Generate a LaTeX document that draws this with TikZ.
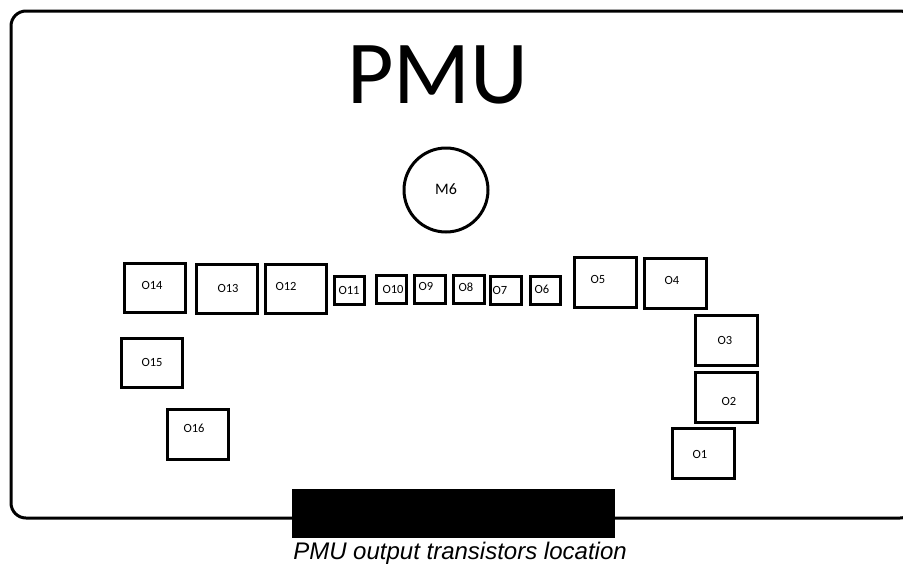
\documentclass[tikz,border=0pt]{standalone}
\usepackage{fontspec}
\setmainfont{Carlito}
\newfontfamily\capfont{Liberation Sans}
\begin{document}
\begin{tikzpicture}[x=1pt,y=-1pt,
  tbox/.style={draw,line width=3pt,rectangle,inner sep=0pt},
  tlbl/.style={font=\fontsize{12.5}{13}\selectfont,inner sep=0pt,anchor=center},
  thick3/.style={line width=3pt}]
\useasboundingbox (0,0) rectangle (903,566);
% frame
\draw[thick3,rounded corners=15pt] (11,11) rectangle (915,518);
\node[fill=black,draw=black,minimum width=322pt,minimum height=48pt,inner sep=0pt] (conn) at (453,513) {};
\node[font=\capfont\itshape\fontsize{24}{26}\selectfont,inner sep=0pt] (cap) at (460,553) {PMU output transistors location};
\node[font=\fontsize{90}{90}\selectfont,inner sep=0pt,anchor=base] (title) at (438,103) {PMU};
% M6
\node[draw,circle,line width=3pt,minimum size=84pt,inner sep=0pt] (m6) at (446,190) {};
\node[font=\fontsize{16}{17}\selectfont,inner sep=0pt] (m6l) at (446,189) {M6};
% boxes: name, cx, cy, w, h, label x, label y
\foreach \n/\cx/\cy/\w/\h/\lx/\ly in {
  O14/155/288/61/49/152/285,
  O13/227/289/61/49/228/288,
  O12/296/289/61/49/286/286,
  O11/349/290/30/28/349/290,
  O10/391/289/30/28/393/289,
  O9/430/289/31/28/426/286,
  O8/469/289/31/28/466/287,
  O7/506/290/31/28/500/290,
  O6/545/290/30/28/542/289,
  O5/605/282/62/50/598/279,
  O4/675/283/62/50/672/280,
  O3/726/340/62/50/725/340,
  O2/726/397/62/50/729/401,
  O1/703/453/62/50/700/454,
  O15/152/363/61/49/152/362,
  O16/198/434/61/50/194/428}{
  \node[tbox,minimum width=\w pt,minimum height=\h pt] (b\n) at (\cx,\cy) {};
  \node[tlbl] (l\n) at (\lx,\ly) {\n};
}
\end{tikzpicture}
\end{document}
